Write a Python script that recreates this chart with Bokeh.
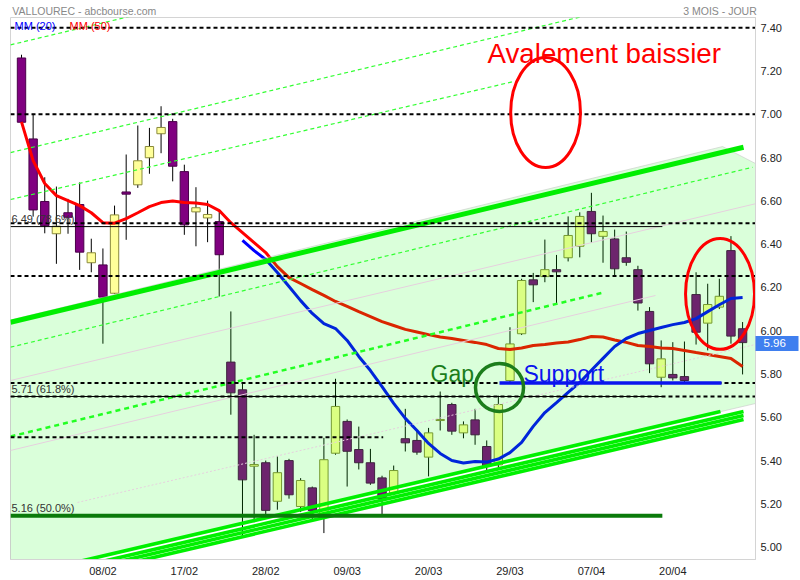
from bokeh.plotting import figure
from bokeh.models import Range1d, FixedTicker, Label, LinearAxis
from bokeh.embed import file_html
from bokeh.resources import INLINE

# ---------------- data ----------------
opens = [7.26, 6.886, 6.597, 6.448, 6.545, 6.583, 6.314, 6.304, 6.173, 6.641,
         6.674, 6.799, 6.91, 6.966, 6.735, 6.549, 6.521, 6.504, 5.855, 5.727,
         5.374, 5.39, 5.212, 5.40, 5.188, 5.274, 5.142, 5.434, 5.581, 5.451,
         5.39, 5.32, 5.25, 5.501, 5.493, 5.416, 5.585, 5.659, 5.528, 5.588,
         5.465, 5.38, 5.77, 5.986, 6.235, 6.25, 6.282, 6.337, 6.39, 6.551,
         6.436, 6.424, 6.337, 6.282, 6.089, 5.785, 5.798, 5.788, 6.167, 6.035,
         6.109, 6.37, 6.009]
highs = [7.275, 7.002, 6.709, 6.666, 6.609, 6.685, 6.425, 6.38, 6.578, 6.814,
         6.948, 6.937, 7.037, 6.979, 6.767, 6.663, 6.601, 6.558, 6.089, 5.762,
         5.519, 5.40, 5.419, 5.408, 5.319, 5.28, 5.505, 5.778, 5.59, 5.557,
         5.454, 5.33, 5.377, 5.639, 5.534, 5.551, 5.719, 5.667, 5.581, 5.639,
         5.493, 5.70, 6.016, 6.24, 6.267, 6.421, 6.35, 6.528, 6.547, 6.637,
         6.532, 6.467, 6.458, 6.30, 6.109, 5.955, 5.947, 5.95, 6.27, 6.217,
         6.24, 6.437, 6.04]
lows = [6.95, 6.527, 6.45, 6.309, 6.448, 6.281, 6.27, 5.94, 6.17, 6.42,
        6.66, 6.725, 6.82, 6.69, 6.443, 6.39, 6.409, 6.158, 5.612, 5.045,
        5.115, 5.133, 5.173, 5.224, 5.162, 5.12, 5.065, 5.427, 5.28, 5.359,
        5.288, 5.151, 5.24, 5.442, 5.427, 5.327, 5.539, 5.519, 5.503, 5.473,
        5.35, 5.37, 5.76, 5.98, 6.132, 6.224, 6.12, 6.32, 6.339, 6.406,
        6.314, 6.25, 6.30, 6.093, 5.804, 5.739, 5.77, 5.76, 5.936, 5.909,
        6.10, 5.94, 5.798]
closes = [6.963, 6.558, 6.485, 6.483, 6.524, 6.363, 6.36, 6.155, 6.535, 6.631,
          6.785, 6.851, 6.939, 6.76, 6.489, 6.568, 6.537, 6.351, 5.713, 5.311,
          5.382, 5.17, 5.344, 5.242, 5.308, 5.17, 5.404, 5.65, 5.443, 5.39,
          5.296, 5.224, 5.354, 5.482, 5.439, 5.528, 5.59, 5.536, 5.565, 5.519,
          5.374, 5.659, 5.939, 6.232, 6.212, 6.282, 6.272, 6.44, 6.528, 6.448,
          6.458, 6.286, 6.316, 6.128, 5.847, 5.87, 5.782, 5.77, 5.993, 6.121,
          6.159, 5.975, 5.945]

mm20_start = 19
mm20 = [6.417, 6.370, 6.329, 6.269, 6.204, 6.139, 6.08, 6.033, 6.01, 5.955,
        5.881, 5.816, 5.742, 5.664, 5.595, 5.539, 5.479, 5.433, 5.40, 5.389,
        5.396, 5.393, 5.407, 5.437, 5.484, 5.558, 5.622, 5.668, 5.715, 5.761,
        5.817, 5.872, 5.927, 5.964, 5.987, 6.001, 6.015, 6.028, 6.038, 6.056,
        6.088, 6.12, 6.149, 6.153]
mm50 = [6.965, 6.786, 6.68, 6.624, 6.601, 6.578, 6.545, 6.499, 6.497, 6.518,
        6.545, 6.573, 6.592, 6.599, 6.592, 6.59, 6.583, 6.555, 6.499, 6.453,
        6.407, 6.361, 6.296, 6.245, 6.218, 6.19, 6.163, 6.135, 6.112, 6.088,
        6.065, 6.042, 6.024, 6.006, 5.994, 5.982, 5.971, 5.964, 5.955, 5.946,
        5.936, 5.918, 5.913, 5.92, 5.932, 5.936, 5.943, 5.948, 5.959, 5.973,
        5.971, 5.957, 5.946, 5.932, 5.927, 5.92, 5.918, 5.909, 5.899, 5.89,
        5.881, 5.872, 5.835]

date_ticks = [7, 14, 21, 28, 35, 42, 49, 56]
date_labels = ["08/02", "17/02", "28/02", "09/03", "20/03", "29/03", "07/04", "20/04"]
price_ticks = [5.0, 5.2, 5.4, 5.6, 5.8, 6.0, 6.2, 6.4, 6.6, 6.8, 7.0, 7.2, 7.4]
price_labels = ["5.00", "5.20", "5.40", "5.60", "5.80", "6.00", "6.20", "6.40",
                "6.60", "6.80", "7.00", "7.20", "7.40"]
last_price_level = 5.943
last_price_label = "5.96"
header_ticks = [5.4, 60.06]
header_labels = ["VALLOUREC - abcbourse.com", "3 MOIS - JOUR"]

# horizontal levels
dashed_levels = [7.40, 7.00, 6.497, 6.253, 5.758, 5.696]
short_dashed_level = 5.508
short_dashed_end = 31.1
fib_levels = [6.481, 5.696, 5.145]
fib_texts = ["6.49  (78.6%)", "5.71  (61.8%)", "5.16  (50.0%)"]
fib_end = 55.1
support_x = [41.1, 60.19]
support_y = 5.758

# drawn channel lines: (x0, y0, x1, y1) in (session index, price)
upper_trend = (-0.946, 6.0393, 62.08, 6.8476)
lower_trends = [(-0.946, 4.8596, 60.10, 5.6268),
                (-0.946, 4.8346, 62.08, 5.6268),
                (-0.946, 4.8162, 62.08, 5.6083),
                (-0.946, 4.7977, 62.08, 5.5898)]
green_dash_thin = [(-0.946, 7.3206, 9.37, 7.4527),
                   (-0.946, 6.8231, 49.79, 7.4716),
                   (-0.946, 6.606, 42.30, 7.151),
                   (-0.946, 5.9238, 62.85, 6.7552)]
green_dash_thick = (-0.946, 5.5113, 50.04, 6.1765)
faint_lines = [(-0.946, 5.77, 63.11, 6.5866),
               (-0.946, 5.4467, 54.51, 6.1626)]
faint_dotted = (4.815, 5.2065, 63.11, 5.9363)
channel_fill_x = [-0.946, 60.28, 63.11, 63.11, -0.946]
channel_fill_y = [6.0494, 6.8508, 6.7723, 5.6637, 4.86]

# annotations
ellipses_red = [(45.06, 7.008, 6.0, 0.508), (60.06, 6.17, 5.93, 0.513)]
circle_green = (41.1, 5.738, 4.13, 0.222)

X0, X1 = -0.946, 63.11
Y0, Y1 = 4.943, 7.447

FONT = "Liberation Sans"

p = figure(width=800, height=580, x_range=Range1d(X0, X1), y_range=Range1d(Y0, Y1),
           output_backend="svg", toolbar_location=None, y_axis_location="right",
           min_border_left=10, min_border_right=45, min_border_top=17, min_border_bottom=21)
p.xgrid.visible = False
p.ygrid.visible = False
p.outline_line_color = "#d4d4d4"
p.background_fill_color = "white"

for ax in (p.xaxis[0], p.yaxis[0]):
    ax.axis_line_color = "#d4d4d4"
    ax.major_tick_line_color = None
    ax.minor_tick_line_color = None
    ax.major_tick_out = 0
    ax.major_tick_in = 0
    ax.minor_tick_out = 0
    ax.minor_tick_in = 0
    ax.major_label_text_font = FONT
    ax.major_label_text_font_size = "11px"
    ax.major_label_text_color = "#222222"
p.xaxis.ticker = FixedTicker(ticks=date_ticks)
p.xaxis.major_label_overrides = dict(zip(date_ticks, date_labels))
p.xaxis.major_label_standoff = 5

# price axis; its single minor tick is drawn as the blue last-price bar
yax = p.yaxis[0]
yax.ticker = FixedTicker(ticks=price_ticks, minor_ticks=[last_price_level])
yax.major_label_overrides = dict(zip(price_ticks, price_labels))
yax.minor_tick_line_color = "#3f7fef"
yax.minor_tick_line_width = 15
yax.minor_tick_line_cap = "butt"
yax.minor_tick_out = 43
yax.major_label_standoff = 5 - 43

# white last-price text, from a second right axis pulled back over the bar
lp_ax = LinearAxis(ticker=FixedTicker(ticks=[last_price_level], minor_ticks=[]),
                   major_label_overrides={last_price_level: last_price_label})
lp_ax.axis_line_color = None
lp_ax.major_tick_line_color = None
lp_ax.minor_tick_line_color = None
lp_ax.major_tick_out = 0
lp_ax.major_tick_in = 0
lp_ax.minor_tick_out = 0
lp_ax.minor_tick_in = 0
lp_ax.major_label_text_font = FONT
lp_ax.major_label_text_font_size = "11.5px"
lp_ax.major_label_text_color = "white"
lp_ax.major_label_standoff = -21
p.add_layout(lp_ax, "right")

# header as a top axis carrying two labels
top_ax = LinearAxis(ticker=FixedTicker(ticks=header_ticks),
                    major_label_overrides=dict(zip(header_ticks, header_labels)))
top_ax.axis_line_color = None
top_ax.major_tick_line_color = None
top_ax.minor_tick_line_color = None
top_ax.major_tick_out = 0
top_ax.major_tick_in = 0
top_ax.minor_tick_out = 0
top_ax.major_label_text_font = FONT
top_ax.major_label_text_font_size = "10.5px"
top_ax.major_label_text_color = "#888888"
top_ax.major_label_standoff = 1
p.add_layout(top_ax, "above")

# ---------------- candles ----------------
xs = list(range(len(opens)))
tops = [max(o, c) for o, c in zip(opens, closes)]
bots = [min(o, c) for o, c in zip(opens, closes)]
fills = ["#ffff99" if c >= o else "#800080" for o, c in zip(opens, closes)]
edges = ["#8a8a3a" if c >= o else "#4a004a" for o, c in zip(opens, closes)]
p.segment(x0=xs, y0=lows, x1=xs, y1=highs, line_color="black", line_width=1)
p.vbar(x=xs, width=0.72, top=tops, bottom=bots, fill_color=fills, line_color=edges, line_width=1)

# moving averages
p.line(list(range(len(mm50))), mm50, line_color="#ff0000", line_width=3)
p.line(list(range(mm20_start, mm20_start + len(mm20))), mm20, line_color="#0000ff", line_width=3)

# channel fill (on top, translucent)
p.patch(channel_fill_x, channel_fill_y, fill_color="#00ff00", fill_alpha=0.145,
        line_color="#c8c8c8", line_alpha=0.6, line_width=1)

# faint lines
for (a, b, c, d) in faint_lines:
    p.line([a, c], [b, d], line_color="#e6d0de", line_width=1)
a, b, c, d = faint_dotted
p.line([a, c], [b, d], line_color="#e6d0de", line_width=1, line_dash="2 2")

# green dashed lines
for (a, b, c, d) in green_dash_thin:
    p.line([a, c], [b, d], line_color="#33ff33", line_width=1.2, line_dash="4 3")
a, b, c, d = green_dash_thick
p.line([a, c], [b, d], line_color="#22ff22", line_width=2.5, line_dash="5 4")

# thick trend lines
a, b, c, d = upper_trend
p.line([a, c], [b, d], line_color="#00ee00", line_width=5)
for (a, b, c, d) in lower_trends:
    p.line([a, c], [b, d], line_color="#00f000", line_width=3.6)

# horizontal levels
for lv in dashed_levels:
    p.line([X0, X1], [lv, lv], line_color="black", line_width=2, line_dash="4 3")
p.line([X0, short_dashed_end], [short_dashed_level, short_dashed_level],
       line_color="black", line_width=2, line_dash="4 3")
p.line([X0, fib_end], [fib_levels[0], fib_levels[0]], line_color="black", line_width=1)
p.line([X0, fib_end], [fib_levels[1], fib_levels[1]], line_color="black", line_width=1)
p.line([X0, fib_end], [fib_levels[2], fib_levels[2]], line_color="#0a7a0a", line_width=4)
for lv, t in zip(fib_levels, fib_texts):
    p.add_layout(Label(x=X0, y=lv, x_offset=1, y_offset=2, text=t, text_font=FONT,
                       text_font_size="11px", text_color="#333333", text_baseline="bottom"))

# support
p.line(support_x, [support_y, support_y], line_color="#0a14ee", line_width=3.5)

# ellipses
for (ex, ey, ew, eh) in ellipses_red:
    p.ellipse(x=[ex], y=[ey], width=[ew], height=[eh], fill_color=None,
              line_color="#ff0000", line_width=3)
cx, cy, cw, ch = circle_green
p.ellipse(x=[cx], y=[cy], width=[cw], height=[ch], fill_color=None,
          line_color="#1b7d1b", line_width=3.5)

# texts
p.add_layout(Label(x=40.07, y=7.282, text="Avalement baissier", text_font=FONT,
                   text_font_size="27.7px", text_color="#ff0000", text_baseline="alphabetic"))
p.add_layout(Label(x=35.17, y=5.802, text="Gap", text_font=FONT,
                   text_font_size="23px", text_color="#1b7d1b", text_baseline="alphabetic"))
p.add_layout(Label(x=43.16, y=5.802, text="Support", text_font=FONT,
                   text_font_size="23px", text_color="#0a14ee", text_baseline="alphabetic"))

# legend
p.add_layout(Label(x=X0, y=Y1, x_offset=4, y_offset=-8, text="MM (20)", text_font=FONT,
                   text_font_size="11px", text_color="#0000ff", text_baseline="middle"))
p.add_layout(Label(x=X0, y=Y1, x_offset=59, y_offset=-8, text="MM (50)", text_font=FONT,
                   text_font_size="11px", text_color="#ff0000", text_baseline="middle"))

open("out.html", "w").write(file_html(p, INLINE))
